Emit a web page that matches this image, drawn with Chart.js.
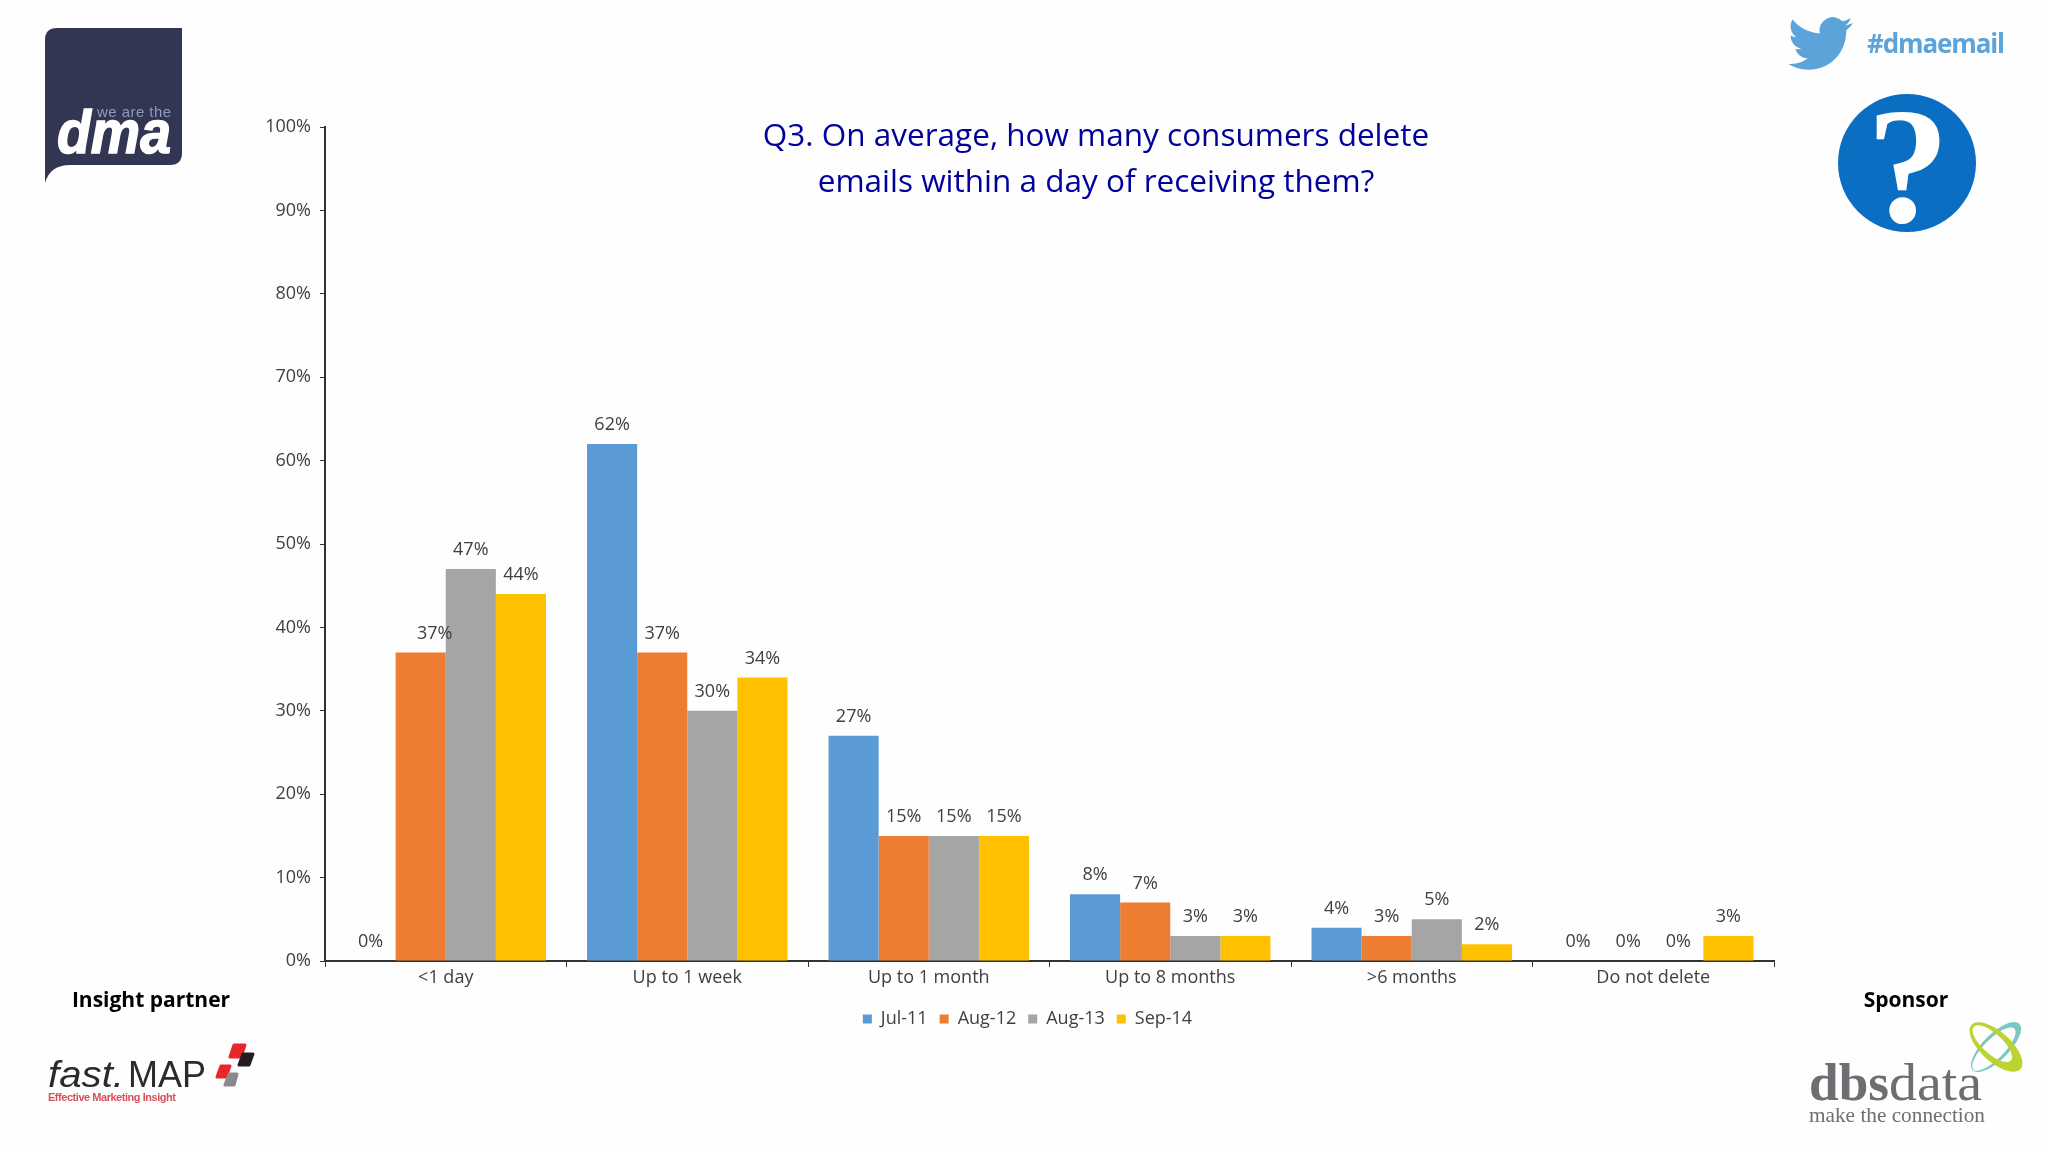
<!DOCTYPE html>
<html>
<head>
<meta charset="utf-8">
<title>Q3 email deletion</title>
<script src="https://cdn.jsdelivr.net/npm/chart.js@4"></script>
<style>
    html, body { margin: 0; padding: 0; background: #fefefe; }
    body { position: relative; width: 2048px; height: 1152px; overflow: hidden; font-family: "Open Sans", sans-serif; }
    #chart { position: absolute; left: 0; top: 0; }
    #art { position: absolute; left: 0; top: 0; }
    .note { position: absolute; font-weight: 700; font-size: 21px; color: #000; transform: translate(-50%, -50%); white-space: nowrap; }
    #title { position: absolute; left: 1096px; top: 110.5px; transform: translateX(-50%); width: 900px; text-align: center;
             font-size: 31.5px; line-height: 46.5px; color: #00009a; }
</style>
</head>
<body>
<canvas id="chart" width="2048" height="1152"></canvas>

<!-- logos -->
<svg id="art" width="2048" height="1152" xmlns="http://www.w3.org/2000/svg">
    <path d="M45 183 V40 Q45 28 57 28 H182 V153 Q182 165 170 165 H70 Q50 165 45 183 Z" fill="#333652"/>
    <text x="97" y="117" font-family="Liberation Sans" font-size="15" fill="#8e9bbd" textLength="74">we are the</text>
    <text x="57" y="153" font-family="Liberation Sans" font-weight="700" font-style="italic" font-size="62" fill="#fff" stroke="#fff" stroke-width="1.5" textLength="114" lengthAdjust="spacingAndGlyphs">dma</text>

    <g transform="translate(1788 11) scale(2.7)"><path fill="#5ba3d9" d="M23.953 4.57a10 10 0 01-2.825.775 4.958 4.958 0 002.163-2.723c-.951.555-2.005.959-3.127 1.184a4.92 4.92 0 00-8.384 4.482C7.69 8.095 4.067 6.13 1.64 3.162a4.822 4.822 0 00-.666 2.475c0 1.71.87 3.213 2.188 4.096a4.904 4.904 0 01-2.228-.616v.06a4.923 4.923 0 003.946 4.827 4.996 4.996 0 01-2.212.085 4.936 4.936 0 004.604 3.417 9.867 9.867 0 01-6.102 2.105c-.39 0-.779-.023-1.17-.067a13.995 13.995 0 007.557 2.209c9.053 0 13.998-7.496 13.998-13.985 0-.21 0-.42-.015-.63A9.935 9.935 0 0024 4.59z"/></g>
    <text x="1867" y="53" font-family="Open Sans" font-weight="700" font-size="26" fill="#5ba3d9" textLength="138">#dmaemail</text>

    <circle cx="1907" cy="163" r="69" fill="#0a6fc2"/>
    <text x="1908" y="222" text-anchor="middle" font-family="Liberation Serif" font-weight="700" font-size="165" fill="#fff">?</text>

    <text x="48" y="1087" font-family="Liberation Sans" font-style="italic" font-size="36" fill="#2b2b2b" textLength="76" lengthAdjust="spacingAndGlyphs">fast.</text>
    <text x="128" y="1087" font-family="Liberation Sans" font-size="36" fill="#2b2b2b" textLength="78" lengthAdjust="spacingAndGlyphs">MAP</text>
    <text x="48" y="1101" font-family="Liberation Sans" font-weight="700" font-size="11" fill="#d9505a" textLength="128">Effective Marketing Insight</text>
    <g stroke-linejoin="round" stroke-width="3">
        <path d="M234 1045 H245 L241 1057 H230 Z" fill="#e8262c" stroke="#e8262c"/>
        <path d="M243 1054 H253 L249 1065 H239 Z" fill="#231f20" stroke="#231f20"/>
        <path d="M221 1066 H230 L226 1077 H217 Z" fill="#e8262c" stroke="#e8262c"/>
        <path d="M229 1074 H237 L234 1085 H225 Z" fill="#8a8a8c" stroke="#8a8a8c"/>
    </g>

    <path transform="translate(1996 1047) rotate(-45)" fill-rule="evenodd" fill="#7cc8c0" d="M-33 0a33 13 0 1 0 66 0a33 13 0 1 0 -66 0 M-32 0a29 10 0 1 0 58 0a29 10 0 1 0 -58 0"/>
    <path transform="translate(1996 1047) rotate(42)" fill-rule="evenodd" fill="#bcd331" d="M-33 0a33 15 0 1 0 66 0a33 15 0 1 0 -66 0 M-30 0a25 10 0 1 0 50 0a25 10 0 1 0 -50 0"/>
    <text x="1809" y="1100" font-family="Liberation Serif" font-weight="700" font-size="52" fill="#6d6e71" textLength="80" lengthAdjust="spacingAndGlyphs">dbs</text>
    <text x="1889" y="1100" font-family="Liberation Serif" font-size="52" fill="#6d6e71" textLength="93" lengthAdjust="spacingAndGlyphs">data</text>
    <text x="1809" y="1122" font-family="Liberation Serif" font-size="22" fill="#6d6e71" textLength="176" lengthAdjust="spacingAndGlyphs">make the connection</text>
</svg>

<div id="title">Q3. On average, how many consumers delete<br>emails within a day of receiving them?</div>
<div class="note" style="left:151px;top:999px">Insight partner</div>
<div class="note" style="left:1906px;top:999px">Sponsor</div>

<script>
const categories = ['<1 day', 'Up to 1 week', 'Up to 1 month', 'Up to 8 months', '>6 months', 'Do not delete'];
const seriesNames = ['Jul-11', 'Aug-12', 'Aug-13', 'Sep-14'];
const jul11 = [0, 62, 27, 8, 4, 0];
const aug12 = [37, 37, 15, 7, 3, 0];
const aug13 = [47, 30, 15, 3, 5, 0];
const sep14 = [44, 34, 15, 3, 2, 3];
const seriesColors = ['#5b9bd5', '#ed7d31', '#a5a5a5', '#ffc000'];

const textColor = '#404040';
const axisColor = '#333333';

// 柱子上方的數值標籤
const valueLabels = {
    id: 'valueLabels',
    afterLayout(chart) {
        // the y axis needs room for its labels, so nudge the legend back under the plot
        chart.legend.left += 8;
        chart.legend.right += 8;
    },
    afterDatasetsDraw(chart) {
        const ctx = chart.ctx;
        ctx.save();
        ctx.font = '18px "Open Sans"';
        ctx.fillStyle = textColor;
        ctx.textAlign = 'center';
        ctx.textBaseline = 'middle';
        chart.data.datasets.forEach((ds, d) => {
            chart.getDatasetMeta(d).data.forEach((bar, i) => {
                // the 37% on <1 day sits slightly to the right in the original
                const shift = (d === 1 && i === 0) ? 14 : 0;
                ctx.fillText(ds.data[i] + '%', bar.x + shift, bar.y - 19);
            });
        });
        ctx.restore();
    }
};

const allSeries = [jul11, aug12, aug13, sep14];

new Chart(document.getElementById('chart').getContext('2d'), {
    type: 'bar',
    data: {
        labels: categories,
        datasets: allSeries.map((values, i) => ({
            label: seriesNames[i],
            data: values,
            backgroundColor: seriesColors[i],
            categoryPercentage: 0.83,
            barPercentage: 1
        }))
    },
    options: {
        responsive: false,
        animation: false,
        layout: { padding: { left: 265, right: 274, top: 127, bottom: 114 } },
        plugins: {
            tooltip: { enabled: false },
            legend: {
                position: 'bottom',
                labels: {
                    boxWidth: 9,
                    boxHeight: 9,
                    padding: 12,
                    color: textColor,
                    font: { family: 'Open Sans', size: 18 }
                }
            }
        },
        scales: {
            x: {
                afterFit(scale) { scale.height = 37; },
                border: { color: axisColor, width: 2 },
                grid: { drawOnChartArea: false, color: axisColor, tickLength: 6 },
                ticks: { color: textColor, padding: 0, maxRotation: 0, font: { family: 'Open Sans', size: 18 } }
            },
            y: {
                min: 0,
                max: 100,
                afterFit(scale) { scale.width = 60; },
                border: { color: axisColor, width: 2 },
                grid: { drawOnChartArea: false, color: axisColor, tickLength: 5 },
                ticks: {
                    stepSize: 10,
                    color: textColor,
                    padding: 9,
                    font: { family: 'Open Sans', size: 18 },
                    callback: function(value) { return value + '%'; }
                }
            }
        }
    },
    plugins: [valueLabels]
});
</script>
</body>
</html>
